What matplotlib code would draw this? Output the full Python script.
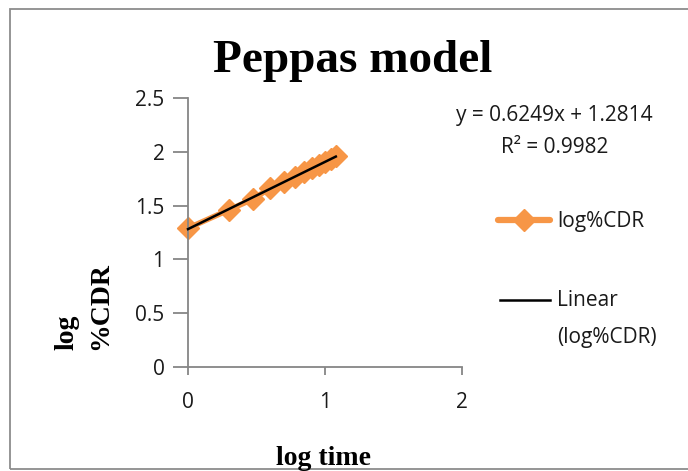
import numpy as np
import matplotlib
matplotlib.use("Agg")
import matplotlib.pyplot as plt
from matplotlib.lines import Line2D
from matplotlib.patches import Rectangle

# ---- data ----
log_time = [0.000, 0.301, 0.477, 0.602, 0.699, 0.778, 0.845, 0.903, 0.954, 1.000, 1.041, 1.079]
log_cdr = [1.290, 1.462, 1.562, 1.665, 1.722, 1.770, 1.812, 1.850, 1.880, 1.905, 1.935, 1.965]
slope = 0.6249
intercept = 1.2814
r2 = 0.9982
x_ticks = [0, 1, 2]
y_ticks = [0, 0.5, 1, 1.5, 2, 2.5]
y_tick_labels = ["0", "0.5", "1", "1.5", "2", "2.5"]

orange = "#F79646"
spine_col = "#868686"
txt_col = "#1a1a1a"
sans = "Open Sans"
serif = "Liberation Serif"

W, H = 688, 471
fig = plt.figure(figsize=(W / 100, H / 100), dpi=100)

# outer chart border
fig.add_artist(Rectangle((10 / W, 2.5 / H), 1.2, (469 - 9) / H, transform=fig.transFigure,
                         fill=False, edgecolor="#8c8c8c", linewidth=1.3))

ax = fig.add_axes([188 / W, 1 - 367 / H, (462 - 188) / W, (367 - 98) / H])
ax.set_xlim(0, 2)
ax.set_ylim(0, 2.5)

ax.plot(log_time, log_cdr, color=orange, linewidth=4, marker="D", markersize=11.5,
        markeredgecolor=orange, markerfacecolor=orange, solid_capstyle="round",
        zorder=2, clip_on=False)
xt = np.array([log_time[0], log_time[-1]])
ax.plot(xt, slope * xt + intercept, color="black", linewidth=1.8, zorder=3, clip_on=False)

for s in ["top", "right"]:
    ax.spines[s].set_visible(False)
for s in ["left", "bottom"]:
    ax.spines[s].set_color(spine_col)
    ax.spines[s].set_linewidth(1.3)

ax.set_xticks(x_ticks)
ax.set_xticklabels([str(v) for v in x_ticks])
ax.set_yticks(y_ticks)
ax.set_yticklabels(y_tick_labels)
ax.tick_params(axis="both", direction="out", width=1.3, color=spine_col,
               labelsize=15, labelcolor=txt_col)
ax.tick_params(axis="x", length=6, pad=12)
ax.tick_params(axis="y", length=11, pad=6)
for lab in ax.get_xticklabels() + ax.get_yticklabels():
    lab.set_family(sans)

fig.text(353 / W, 1 - 72 / H, "Peppas model", ha="center", va="baseline",
         family=serif, fontweight="bold", fontsize=34)
fig.text(84 / W, 1 - 350 / H, "log\n%CDR", rotation=90, ha="center", va="bottom",
         multialignment="left", family=serif, fontweight="bold", fontsize=20, linespacing=1.45)
fig.text(324 / W, 1 - 465 / H, "log time", ha="center", va="baseline",
         family=serif, fontweight="bold", fontsize=20)

# trendline equation
fig.text(554 / W, 1 - 116 / H, "y = 0.6249x + 1.2814", ha="center", va="center",
         family=sans, fontsize=15, color=txt_col)
fig.text(555 / W, 1 - 148 / H, "R² = 0.9982", ha="center", va="center",
         family=sans, fontsize=15, color=txt_col)

# legend (manual)
fig.add_artist(Line2D([498 / W, 550 / W], [1 - 220 / H, 1 - 220 / H], transform=fig.transFigure,
                      color=orange, linewidth=4.5, solid_capstyle="round"))
fig.add_artist(Line2D([524 / W], [1 - 220 / H], transform=fig.transFigure, marker="D",
                      markersize=11.5, color=orange))
fig.text(557 / W, 1 - 221 / H, "log%CDR", ha="left", va="center", family=sans,
         fontsize=15, color=txt_col)
fig.add_artist(Line2D([500 / W, 550 / W], [1 - 300 / H, 1 - 300 / H], transform=fig.transFigure,
                      color="black", linewidth=1.8))
fig.text(557 / W, 1 - 300 / H, "Linear", ha="left", va="center", family=sans,
         fontsize=15, color=txt_col)
fig.text(557 / W, 1 - 337 / H, "(log%CDR)", ha="left", va="center", family=sans,
         fontsize=15, color=txt_col)

fig.savefig("out.png", dpi=100)
